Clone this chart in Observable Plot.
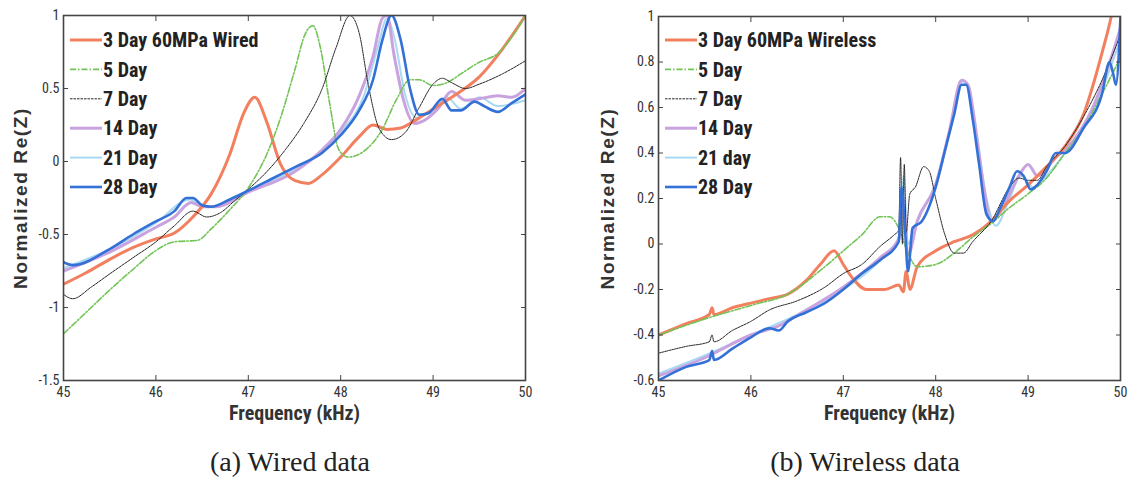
<!DOCTYPE html>
<html><head><meta charset="utf-8">
<script src="https://cdn.jsdelivr.net/npm/d3@7"></script>
<script src="https://cdn.jsdelivr.net/npm/@observablehq/plot@0.6"></script>
<style>
body{margin:0;background:#fff;width:1132px;height:484px;overflow:hidden;position:relative;font-family:"Liberation Sans",Arial,sans-serif}
.panel{position:absolute;top:0;width:566px;height:440px}
.cap{position:absolute;top:446px;width:400px;text-align:center;font-family:"Liberation Serif",serif;font-size:28px;color:#222}
</style></head><body>
<div id="a" class="panel" style="left:0"></div>
<div id="b" class="panel" style="left:566px"></div>
<div class="cap" style="left:90px">(a) Wired data</div>
<div class="cap" style="left:665px">(b) Wireless data</div>
<script>
// ---------- data ----------
const xTicks = [45, 46, 47, 48, 49, 50];
const yTicksWired = [-1.5, -1, -0.5, 0, 0.5, 1];
const yTicksWireless = [-0.6, -0.4, -0.2, 0, 0.2, 0.4, 0.6, 0.8, 1];
const namesWired = ["3 Day 60MPa Wired", "5 Day", "7 Day", "14 Day", "21 Day", "28 Day"];
const namesWireless = ["3 Day 60MPa Wireless", "5 Day", "7 Day", "14 Day", "21 day", "28 Day"];
const xLabel = "Frequency (kHz)";
const yLabel = "Normalized Re(Z)";

const wired3 = [[45,-0.84],[45.25,-0.76],[45.5,-0.67],[45.75,-0.59],[46,-0.53],[46.2,-0.49],[46.4,-0.38],[46.6,-0.22],[46.8,0.05],[46.95,0.33],[47.07,0.44],[47.2,0.27],[47.35,-0.02],[47.5,-0.13],[47.65,-0.15],[47.8,-0.09],[48,0.03],[48.2,0.17],[48.35,0.25],[48.5,0.22],[48.65,0.23],[48.8,0.28],[49,0.36],[49.25,0.46],[49.5,0.58],[49.75,0.77],[50,1.0]];
const wired5 = [[45,-1.18],[45.25,-1.03],[45.5,-0.88],[45.75,-0.74],[46,-0.61],[46.2,-0.55],[46.45,-0.54],[46.6,-0.46],[46.8,-0.33],[47,-0.18],[47.2,0.05],[47.35,0.3],[47.5,0.62],[47.62,0.88],[47.7,0.93],[47.78,0.78],[47.88,0.4],[47.98,0.08],[48.08,0.03],[48.25,0.07],[48.45,0.22],[48.6,0.42],[48.75,0.56],[48.85,0.56],[49,0.52],[49.15,0.54],[49.3,0.6],[49.5,0.68],[49.7,0.74],[49.85,0.85],[50,1.0]];
const wired7 = [[45,-0.91],[45.1,-0.94],[45.3,-0.86],[45.5,-0.77],[45.75,-0.66],[46,-0.55],[46.2,-0.44],[46.4,-0.34],[46.55,-0.38],[46.7,-0.35],[46.85,-0.27],[47,-0.19],[47.2,-0.07],[47.4,0.08],[47.6,0.26],[47.8,0.5],[47.95,0.78],[48.1,1.0],[48.2,0.88],[48.3,0.52],[48.42,0.22],[48.55,0.15],[48.7,0.2],[48.85,0.37],[49,0.53],[49.1,0.57],[49.2,0.54],[49.35,0.5],[49.5,0.53],[49.75,0.6],[50,0.69]];
const wired14 = [[45,-0.75],[45.5,-0.62],[46,-0.45],[46.2,-0.38],[46.38,-0.28],[46.5,-0.31],[46.65,-0.31],[47,-0.21],[47.5,-0.07],[47.8,0.08],[48,0.22],[48.2,0.45],[48.35,0.72],[48.45,0.98],[48.5,1.0],[48.58,0.72],[48.68,0.42],[48.8,0.26],[48.9,0.28],[49.05,0.36],[49.2,0.48],[49.35,0.42],[49.5,0.43],[49.7,0.45],[49.85,0.44],[50,0.5]];
const wired21 = [[45,-0.73],[45.5,-0.6],[46,-0.42],[46.37,-0.26],[46.5,-0.3],[46.65,-0.31],[47,-0.2],[47.5,-0.05],[48,0.2],[48.25,0.45],[48.4,0.78],[48.5,0.98],[48.58,0.85],[48.7,0.45],[48.82,0.3],[49,0.36],[49.15,0.44],[49.3,0.36],[49.5,0.44],[49.7,0.38],[50,0.42]];
const wired28 = [[45,-0.69],[45.1,-0.71],[45.5,-0.6],[45.75,-0.5],[46,-0.41],[46.2,-0.34],[46.33,-0.25],[46.4,-0.25],[46.5,-0.3],[46.6,-0.31],[46.8,-0.26],[47,-0.2],[47.25,-0.12],[47.5,-0.04],[47.8,0.06],[48,0.18],[48.2,0.35],[48.35,0.56],[48.45,0.83],[48.55,1.0],[48.65,0.83],[48.75,0.5],[48.85,0.32],[48.95,0.33],[49.1,0.43],[49.2,0.35],[49.3,0.35],[49.45,0.41],[49.55,0.38],[49.7,0.34],[49.85,0.4],[50,0.46]];

const wireless3 = [[45,-0.4],[45.3,-0.35],[45.55,-0.31],[45.58,-0.28],[45.6,-0.31],[45.8,-0.28],[46,-0.26],[46.2,-0.24],[46.4,-0.22],[46.6,-0.16],[46.75,-0.09],[46.9,-0.03],[47,-0.09],[47.1,-0.15],[47.25,-0.2],[47.45,-0.2],[47.6,-0.18],[47.65,-0.21],[47.68,-0.12],[47.72,-0.2],[47.8,-0.1],[48,-0.03],[48.2,0.01],[48.4,0.04],[48.6,0.1],[48.8,0.19],[49,0.26],[49.2,0.34],[49.4,0.43],[49.6,0.57],[49.8,0.84],[49.9,1.0],[49.95,1.1]];
const wireless5 = [[45,-0.4],[45.5,-0.33],[46,-0.27],[46.4,-0.22],[46.8,-0.1],[47,-0.03],[47.2,0.04],[47.4,0.12],[47.5,0.12],[47.6,0.07],[47.7,-0.04],[47.8,-0.1],[48,-0.09],[48.2,-0.04],[48.4,0.03],[48.6,0.09],[48.8,0.16],[49,0.22],[49.2,0.29],[49.4,0.4],[49.6,0.51],[49.8,0.66],[50,0.82]];
const wireless7 = [[45,-0.48],[45.3,-0.45],[45.55,-0.43],[45.58,-0.4],[45.6,-0.43],[45.8,-0.38],[46,-0.34],[46.2,-0.29],[46.5,-0.25],[46.8,-0.19],[47,-0.13],[47.2,-0.09],[47.4,-0.01],[47.55,0.04],[47.6,0.06],[47.62,0.38],[47.64,0.0],[47.66,0.35],[47.68,0.05],[47.72,0.22],[47.78,0.25],[47.87,0.34],[47.93,0.32],[48,0.2],[48.1,0.04],[48.2,-0.04],[48.3,-0.04],[48.4,0.01],[48.6,0.1],[48.8,0.25],[48.9,0.29],[49,0.28],[49.1,0.28],[49.2,0.34],[49.4,0.43],[49.6,0.56],[49.8,0.72],[50,0.92]];
const wireless14 = [[45,-0.58],[45.5,-0.5],[46,-0.4],[46.3,-0.36],[46.6,-0.29],[47,-0.19],[47.4,-0.06],[47.6,0.02],[47.65,0.2],[47.7,-0.05],[47.8,0.1],[48,0.26],[48.15,0.5],[48.28,0.72],[48.35,0.7],[48.45,0.45],[48.52,0.25],[48.6,0.1],[48.75,0.18],[48.9,0.3],[49,0.35],[49.1,0.3],[49.3,0.38],[49.5,0.46],[49.7,0.6],[49.9,0.82],[50,0.95]];
const wireless21 = [[45,-0.57],[45.5,-0.49],[46,-0.4],[46.5,-0.31],[47,-0.2],[47.4,-0.07],[47.62,0.05],[47.65,0.3],[47.7,0.0],[47.8,0.1],[48,0.27],[48.2,0.58],[48.3,0.72],[48.4,0.6],[48.55,0.2],[48.65,0.08],[48.8,0.2],[48.92,0.3],[49.05,0.25],[49.2,0.3],[49.4,0.4],[49.6,0.52],[49.8,0.68],[50,0.9]];
const wireless28 = [[45,-0.6],[45.3,-0.54],[45.55,-0.51],[45.58,-0.47],[45.6,-0.51],[45.8,-0.46],[46,-0.41],[46.2,-0.37],[46.3,-0.38],[46.4,-0.34],[46.6,-0.3],[46.8,-0.26],[47,-0.2],[47.2,-0.13],[47.4,-0.07],[47.6,0.01],[47.63,0.25],[47.67,0.05],[47.7,-0.12],[47.75,0.07],[47.85,0.1],[48,0.25],[48.1,0.41],[48.2,0.57],[48.28,0.7],[48.33,0.7],[48.4,0.55],[48.47,0.35],[48.55,0.13],[48.62,0.1],[48.7,0.16],[48.8,0.25],[48.88,0.32],[48.95,0.3],[49.03,0.24],[49.1,0.26],[49.2,0.32],[49.3,0.4],[49.4,0.4],[49.6,0.51],[49.8,0.66],[49.88,0.8],[49.92,0.75],[49.95,0.7],[50,1.0]];

// ---------- styles ----------
const colors = ["#f27f5e", "#72c457", "#262626", "#c9a3df", "#a9d9f2", "#3371d6"];
const widths = [3, 1.6, 1, 3, 2, 2.6];
const dashes = [null, "6,2,1.5,2", "2.5,1", null, null, null];
const drawOrder = [4, 3, 0, 1, 2, 5];
const FONT = '"Liberation Sans Narrow","Arial Narrow","Roboto Condensed","Liberation Sans",sans-serif';

function panel(el, cfg) {
  const rows = cfg.series.flatMap((pts, i) => pts.map(([f, v]) => ({f, v, s: i})));
  const chart = Plot.plot({
    width: 566, height: 440,
    marginLeft: cfg.ml, marginRight: cfg.mr, marginTop: cfg.mt, marginBottom: cfg.mb,
    x: {domain: [45, 50], ticks: xTicks, label: null},
    y: {domain: cfg.yDomain, ticks: cfg.yTicks, label: null},
    style: {fontFamily: FONT, fontSize: "14px", color: "#333", background: "transparent", overflow: "visible"},
    marks: [
      ...drawOrder.map(i => Plot.line(rows.filter(d => d.s === i), {
        x: "f", y: "v", stroke: colors[i], strokeWidth: widths[i],
        strokeDasharray: dashes[i], curve: "monotone-x", clip: true
      })),
      Plot.frame({stroke: "#444", strokeWidth: 1.6}),
      Plot.axisX(xTicks, {anchor: "bottom", tickSize: -5, tickPadding: 12, tickFormat: d => String(d), label: null, stroke: "#444"}),
      Plot.axisX(xTicks, {anchor: "top", tickSize: -5, tickFormat: () => "", label: null, stroke: "#444"}),
      Plot.axisY(cfg.yTicks, {anchor: "left", tickSize: -5, tickPadding: 9, tickFormat: d => String(d), label: null, stroke: "#444"}),
      Plot.axisY(cfg.yTicks, {anchor: "right", tickSize: -5, tickFormat: () => "", label: null, stroke: "#444"}),
      Plot.text([xLabel], {frameAnchor: "bottom", dy: 33, fontSize: 20, fontWeight: "bold", fill: "#333", lineAnchor: "middle"}),
      Plot.text([yLabel], {frameAnchor: "left", dx: cfg.ydx, rotate: -90, textAnchor: "middle", fontSize: 19, fontWeight: "bold", fill: "#333",
        fontFamily: '"Liberation Sans",Arial,sans-serif'})
    ]
  });
  const svg = d3.select(chart);
  svg.selectAll("text").filter(function () { return this.textContent === yLabel; }).style("letter-spacing", "1.6px");
  // legend inside plot, top-left
  const g = svg.append("g").attr("text-anchor", "start");
  cfg.names.forEach((name, i) => {
    const y = cfg.legY0 + i * cfg.legDy;
    g.append("line").attr("x1", cfg.legX).attr("x2", cfg.legX + 32).attr("y1", y).attr("y2", y)
      .attr("stroke", colors[i]).attr("stroke-width", widths[i]).attr("stroke-dasharray", dashes[i]);
    g.append("text").attr("x", cfg.legX + 33).attr("y", y).attr("dy", "0.36em")
      .attr("font-family", FONT).attr("font-size", 20).attr("font-weight", "bold").attr("fill", "#222")
      .text(name);
  });
  el.appendChild(chart);
}

panel(document.getElementById("a"), {
  series: [wired3, wired5, wired7, wired14, wired21, wired28], names: namesWired,
  yDomain: [-1.5, 1], yTicks: yTicksWired,
  ml: 63, mr: 41, mt: 15, mb: 60, ydx: -43,
  legX: 70, legY0: 40, legDy: 29.4
});
panel(document.getElementById("b"), {
  series: [wireless3, wireless5, wireless7, wireless14, wireless21, wireless28], names: namesWireless,
  yDomain: [-0.6, 1], yTicks: yTicksWireless,
  ml: 92, mr: 12, mt: 16, mb: 60, ydx: -51,
  legX: 99, legY0: 40, legDy: 29.4
});
</script>
</body></html>
